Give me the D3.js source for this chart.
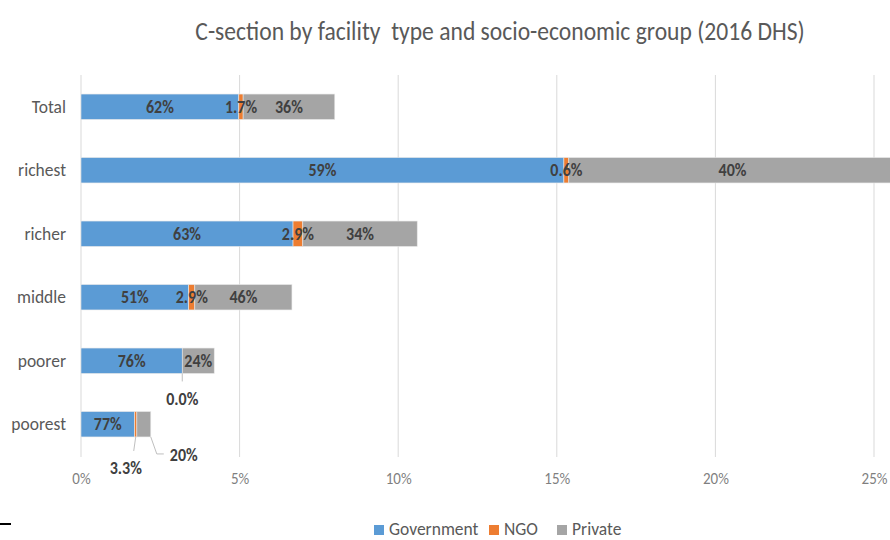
<!DOCTYPE html>
<html>
<head>
<meta charset="utf-8">
<script src="https://cdn.jsdelivr.net/npm/d3@7"></script>
<style>
  html, body { margin: 0; padding: 0; background: #fff; }
  svg { display: block; font-family: Carlito, "Liberation Sans Narrow", "Open Sans", sans-serif; }
  text { white-space: pre; }
</style>
</head>
<body>
<svg id="chart" width="890" height="540"></svg>
<script>
// Socio-economic groups, top to bottom
const groups = ["Total", "richest", "richer", "middle", "poorer", "poorest"];
// Overall C-section rate per group (% of births)
const totalRate = [8.0, 25.7, 10.6, 6.65, 4.2, 2.2];
// Share of C-sections by facility type (% of the group's C-sections)
const govShare = [62, 59, 63, 51, 76, 77];
const ngoShare = [1.7, 0.6, 2.9, 2.9, 0.0, 3.3];
const privShare = [36, 40, 34, 46, 24, 20];
// Share label text as printed
const govText = ["62%", "59%", "63%", "51%", "76%", "77%"];
const ngoText = ["1.7%", "0.6%", "2.9%", "2.9%", "0.0%", "3.3%"];
const privText = ["36%", "40%", "34%", "46%", "24%", "20%"];
const seriesNames = ["Government", "NGO", "Private"];
const seriesColors = ["#5B9BD5", "#ED7D31", "#A5A5A5"];
const xTicks = [0, 5, 10, 15, 20, 25];

const svg = d3.select("#chart");
const FONT = 'Carlito, "Liberation Sans Narrow", "Open Sans", sans-serif';

const x = d3.scaleLinear().domain([0, 25]).range([81, 874]);
const y = d3.scaleBand().domain(groups).range([75, 456]).paddingInner(0.6).paddingOuter(0.3);

// Segment widths: the group's rate split by facility shares
const rows = groups.map((g, i) => {
  const shares = [govShare[i], ngoShare[i], privShare[i]];
  const sum = d3.sum(shares);
  const texts = [govText[i], ngoText[i], privText[i]];
  let acc = 0;
  const segs = shares.map((s, k) => {
    const v = totalRate[i] * s / sum;
    const seg = { group: g, k, x0: acc, x1: acc + v, text: texts[k] };
    acc += v;
    return seg;
  });
  return { group: g, segs };
});

// Title
svg.append("text")
  .attr("x", 500).attr("y", 40)
  .attr("text-anchor", "middle")
  .attr("font-size", 23.6)
  .attr("fill", "#595959")
  .text("C-section by facility  type and socio-economic group (2016 DHS)");

// Vertical gridlines
svg.append("g").selectAll("line").data(xTicks).join("line")
  .attr("x1", d => x(d)).attr("x2", d => x(d))
  .attr("y1", 75).attr("y2", 457)
  .attr("stroke", "#d9d9d9").attr("stroke-width", 1);

// X axis tick labels
const xAxis = d3.axisBottom(x).tickValues(xTicks).tickFormat(d => d + "%").tickSize(0).tickPadding(0);
const xg = svg.append("g").attr("transform", "translate(0,472)").call(xAxis)
  .attr("font-family", FONT).attr("font-size", 15);
xg.select(".domain").remove();
xg.selectAll("text").attr("fill", "#7f7f7f");

// Category axis labels
const yAxis = d3.axisLeft(y).tickSize(0).tickPadding(0);
const yg = svg.append("g").attr("transform", "translate(66,0)").call(yAxis)
  .attr("font-family", FONT).attr("font-size", 17.5);
yg.select(".domain").remove();
yg.selectAll("text").attr("fill", "#595959");

// Stacked bars
const bars = svg.append("g");
rows.forEach(r => {
  bars.selectAll(null).data(r.segs).join("rect")
    .attr("x", d => x(d.x0))
    .attr("y", y(r.group))
    .attr("width", d => Math.max(0, x(d.x1) - x(d.x0)))
    .attr("height", y.bandwidth())
    .attr("fill", d => seriesColors[d.k])
    .attr("stroke", "#e8e8e8")
    .attr("stroke-width", 0.6);
});

// Data labels
const labelG = svg.append("g")
  .attr("font-size", 16).attr("font-weight", "bold").attr("fill", "#404040");

// Segments whose label sits outside the bar, with a leader line
const outside = {
  "poorer|1": { lx: 0, ly: 38, path: (xm, yb) => [[xm, yb], [xm, yb + 8]] },
  "poorest|1": { lx: -10, ly: 44, path: (xm, yb) => [[xm, yb], [xm - 2, yb + 14]] },
  "poorest|2": { lx: 33, ly: 31, path: (xm, yb, xe) => [[xe, yb], [xe + 6, yb + 17], [xe + 13, yb + 17]] }
};

rows.forEach(r => {
  r.segs.forEach(d => {
    const key = r.group + "|" + d.k;
    const xm = (x(d.x0) + x(Math.min(d.x1, 25.9))) / 2;
    const yc = y(r.group) + y.bandwidth() / 2;
    const yb = y(r.group) + y.bandwidth();
    if (outside[key]) {
      const o = outside[key];
      const pts = o.path(xm, yb, x(d.x1));
      labelG.append("path")
        .attr("d", d3.line()(pts))
        .attr("fill", "none").attr("stroke", "#bfbfbf").attr("stroke-width", 1);
      labelG.append("text")
        .attr("x", (d.k === 2 ? x(d.x1) - 14 : xm) + o.lx)
        .attr("y", yb + o.ly - 13)
        .attr("dy", "0.35em")
        .attr("text-anchor", d.k === 2 ? "start" : "middle")
        .text(d.text);
    } else {
      labelG.append("text")
        .attr("x", xm).attr("y", yc).attr("dy", "0.35em")
        .attr("text-anchor", "middle")
        .text(d.text);
    }
  });
});

// Legend
const legend = svg.append("g").attr("transform", "translate(374,529)");
let lx = 0;
const legendGap = [115, 68, 0];
seriesNames.forEach((name, i) => {
  legend.append("rect").attr("x", lx).attr("y", -4).attr("width", 10).attr("height", 10)
    .attr("fill", seriesColors[i]);
  legend.append("text").attr("x", lx + 15).attr("y", 0).attr("dy", "0.35em")
    .attr("font-size", 17.5).attr("fill", "#595959").text(name);
  lx += legendGap[i];
});

// Short dark mark at the lower left edge
svg.append("line").attr("x1", 0).attr("x2", 11).attr("y1", 524).attr("y2", 524)
  .attr("stroke", "#000").attr("stroke-width", 2);

// Slightly tall, narrow lettering: stretch every label vertically around its anchor
svg.selectAll("text").each(function () {
  const t = d3.select(this);
  const inLegend = this.parentNode === legend.node();
  const k = inLegend ? 1.04 : 1.1;
  const tx = +t.attr("x") || 0, ty = +t.attr("y") || 0;
  t.attr("x", 0).attr("y", 0)
   .attr("transform", `translate(${tx},${ty}) scale(1,${k})`);
});
</script>
</body>
</html>
